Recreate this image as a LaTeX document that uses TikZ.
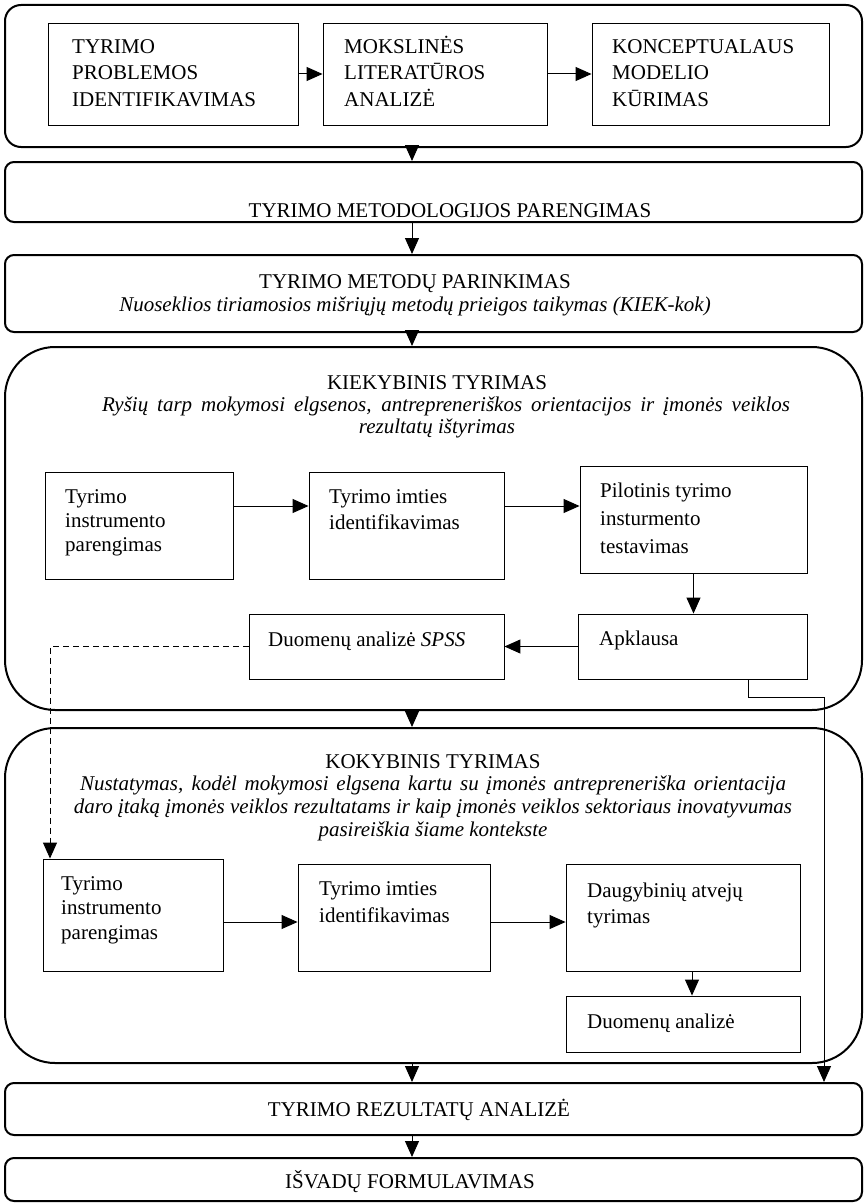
\documentclass[tikz,border=0pt]{standalone}
\usepackage{fontspec}
\setmainfont{Liberation Serif}
\usetikzlibrary{arrows.meta,calc}
\newcommand{\myfs}[1]{\fontsize{21}{#1}\selectfont}
\newcommand{\mystrut}{\rule{0pt}{18pt}}
\begin{document}
\begin{tikzpicture}[x=1pt,y=-1pt,
  cont/.style={draw, line width=2pt, rounded corners=50pt, inner sep=0},
  bar/.style={draw, line width=2pt, rounded corners=9pt, inner sep=0, minimum width=857pt},
  ibox/.style={draw, line width=0.9pt, inner sep=0},
  tl/.style={inner sep=0, anchor=north west, align=left},
  hc/.style={inner sep=0, anchor=north, align=center},
  conn/.style={line width=1pt, -{Triangle[length=16pt,width=14pt]}},
  dconn/.style={conn, dash pattern=on 6pt off 4pt}]
\useasboundingbox (0,0) rectangle (864,1204);
\coordinate (mx) at (412,0);
% ---------- top container ----------
\node[draw, line width=2pt, rounded corners=16pt, inner sep=0, minimum width=857pt, minimum height=142pt] (C0) at (433.5,76) {};
\node[ibox, minimum width=250pt, minimum height=102pt] (T1) at (173,74) {};
\node[ibox, minimum width=224pt, minimum height=102pt] (T2) at (435,74) {};
\node[ibox, minimum width=237pt, minimum height=102pt] (T3) at (710.5,74) {};
\node[tl, font=\myfs{26.5}] (t1) at (72,35) {\mystrut TYRIMO\\PROBLEMOS\\IDENTIFIKAVIMAS};
\node[tl, font=\myfs{26.5}] (t2) at (344,35) {\mystrut MOKSLINĖS\\LITERATŪROS\\ANALIZĖ};
\node[tl, font=\myfs{26.5}] (t3) at (612,35) {\mystrut KONCEPTUALAUS\\MODELIO\\KŪRIMAS};
\draw[conn] (T1) -- (T2);
\draw[conn] (T2) -- (T3);
% ---------- methodology bars ----------
\node[bar, minimum height=60pt] (M1) at (433.5,192) {};
\node[hc, font=\myfs{23}] (m1t) at (450,199) {\mystrut TYRIMO METODOLOGIJOS PARENGIMAS};
\node[bar, minimum height=77pt] (M2) at (433.5,293.5) {};
\node[hc, font=\myfs{23}] (m2t) at (415,270) {\mystrut TYRIMO METODŲ PARINKIMAS\\\textit{Nuoseklios tiriamosios mišriųjų metodų prieigos taikymas (KIEK-kok)}};
\draw[conn] (C0.south -| mx) -- (M1.north -| mx);
\draw[conn] (M1.south -| mx) -- (M2.north -| mx);
% ---------- quantitative ----------
\node[cont, minimum width=857pt, minimum height=363pt] (K) at (433.5,528.5) {};
\node[hc, font=\myfs{22}] (kt) at (437,371) {\mystrut KIEKYBINIS TYRIMAS\\\hspace*{18pt}\makebox[688pt][s]{\textit{Ryšių tarp mokymosi elgsenos, antrepreneriškos orientacijos ir įmonės veiklos}}\\\textit{rezultatų ištyrimas}};
\draw[conn] (M2.south -| mx) -- (K.north -| mx);
\node[ibox, minimum width=188pt, minimum height=107pt] (K1) at (139,525.5) {};
\node[ibox, minimum width=195pt, minimum height=107pt] (K2) at (406.5,525.5) {};
\node[ibox, minimum width=227pt, minimum height=107pt] (K3) at (693.5,519.5) {};
\node[ibox, minimum width=229pt, minimum height=65pt] (Ap) at (692.5,646.5) {};
\node[ibox, minimum width=255pt, minimum height=65pt] (S) at (376.5,646.5) {};
\node[tl, font=\myfs{24}] (k1t) at (65,485) {\mystrut Tyrimo\\instrumento\\parengimas};
\node[tl, font=\myfs{26}] (k2t) at (329,485) {\mystrut Tyrimo imties\\identifikavimas};
\node[tl, font=\myfs{28}] (k3t) at (600,479) {\mystrut Pilotinis tyrimo\\insturmento\\testavimas};
\node[tl, font=\myfs{24}] (apt) at (599,627) {\mystrut Apklausa};
\node[tl, font=\myfs{24}] (st) at (268,628) {\mystrut Duomenų analizė \textit{SPSS}};
\coordinate (ky) at (0,506);
\draw[conn] (K1.east |- ky) -- (K2.west |- ky);
\draw[conn] (K2.east |- ky) -- (K3.west |- ky);
\draw[conn] (K3.south) -- (K3.south |- Ap.north);
\draw[conn] (Ap.west) -- (S.east);
% ---------- qualitative ----------
\node[cont, minimum width=857pt, minimum height=335pt] (Q) at (433.5,895.5) {};
\node[hc, font=\myfs{22.7}] (qt) at (433,750) {\mystrut KOKYBINIS TYRIMAS\\\makebox[706pt][s]{\textit{Nustatymas, kodėl mokymosi elgsena kartu su įmonės antrepreneriška orientacija}}\\\textit{daro įtaką įmonės veiklos rezultatams ir kaip įmonės veiklos sektoriaus inovatyvumas}\\\textit{pasireiškia šiame kontekste}};
\draw[conn] (K.south -| mx) -- (Q.north -| mx);
\node[ibox, minimum width=180pt, minimum height=112pt] (QA) at (133,915) {};
\node[ibox, minimum width=192pt, minimum height=107pt] (QB) at (394,917.5) {};
\node[ibox, minimum width=234pt, minimum height=107pt] (QC) at (683,917.5) {};
\node[ibox, minimum width=234pt, minimum height=56pt] (QD) at (683,1024) {};
\node[tl, font=\myfs{24.5}] (qat) at (61,872) {\mystrut Tyrimo\\instrumento\\parengimas};
\node[tl, font=\myfs{27}] (qbt) at (319,877) {\mystrut Tyrimo imties\\identifikavimas};
\node[tl, font=\myfs{26}] (qct) at (587,879) {\mystrut Daugybinių atvejų\\tyrimas};
\node[tl, font=\myfs{24}] (qdt) at (587,1010) {\mystrut Duomenų analizė};
\coordinate (qy) at (0,922);
\coordinate (qx) at (692,0);
\draw[conn] (QA.east |- qy) -- (QB.west |- qy);
\draw[conn] (QB.east |- qy) -- (QC.west |- qy);
\draw[conn] (QC.south -| qx) -- (QD.north -| qx);
% ---------- results ----------
\node[bar, minimum height=52pt] (R) at (433.5,1109) {};
\node[hc, font=\myfs{23}] (rt) at (419,1098) {\mystrut TYRIMO REZULTATŲ ANALIZĖ};
\node[bar, minimum height=43pt] (V) at (433.5,1179.5) {};
\node[hc, font=\myfs{23}] (vt) at (410,1170) {\mystrut IŠVADŲ FORMULAVIMAS};
\draw[conn] (Q.south -| mx) -- (R.north -| mx);
\draw[conn] (R.south -| mx) -- (V.north -| mx);
% ---------- cross connectors ----------
\coordinate (a1) at (748,697);
\coordinate (a2) at (824,697);
\draw[conn] (a1 |- Ap.south) -- (a1) -- (a2) -- (a2 |- R.north);
\coordinate (d1) at (50,646.5);
\draw[dconn] (S.west) -- (d1) -- (d1 |- QA.north);
\end{tikzpicture}
\end{document}
